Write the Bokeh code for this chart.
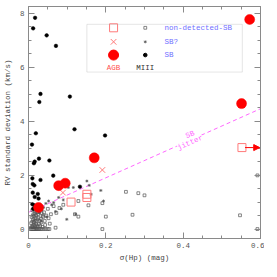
from bokeh.plotting import figure
from bokeh.models import Range1d, LinearAxis, SingleIntervalTicker, FixedTicker, Label, BoxAnnotation, Arrow, NormalHead
from bokeh.embed import file_html
from bokeh.resources import INLINE

# ---------------- data ----------------
# AGB stars
agb_sb_x = [0.026, 0.078, 0.095, 0.170, 0.551, 0.572]
agb_sb_y = [0.80, 1.61, 1.70, 2.64, 4.65, 7.77]
agb_sbq_x = [0.089, 0.191]
agb_sbq_y = [1.35, 2.19]
agb_nd_x = [0.110, 0.151, 0.151, 0.552]
agb_nd_y = [1.00, 1.29, 1.17, 3.02]
# lower limit arrow for the outlier non-detected AGB star
arrow_x = [0.560, 0.598]
arrow_y = [3.02, 3.02]

# MIII stars
m3_sb_x = [0.017, 0.012, 0.047, 0.071, 0.031, 0.028, 0.107, 0.119, 0.019, 0.198,
           0.009, 0.016, 0.027, 0.014, 0.054, 0.064, 0.010, 0.031, 0.011, 0.015,
           0.133, 0.011, 0.024, 0.016, 0.026, 0.010, 0.015, 0.012]
m3_sb_y = [7.83, 7.44, 7.18, 6.79, 5.01, 4.71, 4.91, 3.70, 3.55, 3.47,
           3.13, 2.50, 2.61, 2.44, 2.54, 1.98, 1.88, 1.82, 1.67, 1.62,
           1.57, 1.35, 1.30, 1.19, 1.13, 0.92, 0.88, 0.75]
m3_sbq_x = [0.151, 0.157, 0.187, 0.162, 0.194, 0.103, 0.116, 0.078, 0.090, 0.065,
            0.052, 0.039, 0.122, 0.099, 0.045, 0.060, 0.035, 0.070, 0.028, 0.020,
            0.085, 0.047, 0.033]
m3_sbq_y = [1.78, 1.62, 1.43, 1.29, 1.04, 1.54, 1.54, 1.17, 1.08, 0.98,
            1.04, 0.80, 0.55, 0.36, 0.95, 0.90, 0.70, 0.65, 0.60, 0.85,
            0.75, 0.45, 0.30]
m3_nd_x = [0.005, 0.008, 0.010, 0.012, 0.014, 0.016, 0.018, 0.020, 0.022, 0.025,
           0.028, 0.031, 0.035, 0.040, 0.045, 0.050, 0.054,
           0.006, 0.009, 0.011, 0.013, 0.015, 0.017, 0.019, 0.021, 0.024, 0.027,
           0.030, 0.033, 0.036,
           0.007, 0.010, 0.012, 0.014, 0.016, 0.018, 0.020, 0.023, 0.026, 0.029,
           0.032, 0.038, 0.042,
           0.008, 0.011, 0.013, 0.015, 0.017, 0.020, 0.022, 0.025, 0.028, 0.034,
           0.040, 0.046, 0.052, 0.058,
           0.010, 0.014, 0.018, 0.030, 0.050, 0.065, 0.072, 0.080, 0.090,
           0.070, 0.055, 0.120,
           0.129, 0.155, 0.191, 0.129, 0.200, 0.269, 0.547, 0.191, 0.592, 0.252,
           0.284, 0.300, 0.592, 0.043, 0.037]
m3_nd_y = [0.00, 0.00, 0.00, 0.00, 0.00, 0.00, 0.00, 0.00, 0.00, 0.00,
           0.00, 0.00, 0.00, 0.00, 0.00, 0.00, 0.00,
           0.05, 0.08, 0.12, 0.06, 0.15, 0.10, 0.20, 0.14, 0.09, 0.18,
           0.12, 0.25, 0.08,
           0.22, 0.28, 0.35, 0.26, 0.32, 0.40, 0.30, 0.36, 0.42, 0.30,
           0.38, 0.45, 0.30,
           0.45, 0.50, 0.55, 0.48, 0.58, 0.52, 0.62, 0.55, 0.65, 0.58,
           0.62, 0.50, 0.40, 0.55,
           0.70, 0.75, 0.68, 0.78, 0.75, 0.85, 0.60, 0.78, 0.90,
           0.05, 0.20, 0.55,
           1.04, 0.88, 0.96, 0.46, 0.46, 0.53, 0.51, 0.00, 0.00, 1.38,
           1.33, 1.25, 1.99, 0.15, 0.50]

# SB jitter line
jitter_x = [0.0, 0.6]
jitter_y = [0.62, 4.46]

x_major = [0.0, 0.2, 0.4, 0.6]
x_minor = [0.05, 0.1, 0.15, 0.25, 0.3, 0.35, 0.45, 0.5, 0.55]
y_major = [0, 2, 4, 6, 8]
y_minor = [-0.5, 0.5, 1, 1.5, 2.5, 3, 3.5, 4.5, 5, 5.5, 6.5, 7, 7.5]

# ---------------- styling ----------------
FONT = "Liberation Mono"
GRAY = "#8a8a8a"
RED = "#ff0000"
PINK = "#ff7a7a"
BLUE = "#6f6fff"
MAG = "#ff66ff"
DARK = "#555555"

p = figure(frame_width=232, frame_height=232, x_range=Range1d(0, 0.6), y_range=Range1d(-0.35, 8.25),
           output_backend="svg", toolbar_location=None,
           min_border_left=22, min_border_right=4, min_border_top=6, min_border_bottom=24,
           x_axis_label="σ(Hp) (mag)", y_axis_label="RV standard deviation (km/s)")
p.grid.visible = False
p.outline_line_color = GRAY
p.background_fill_color = "white"
p.border_fill_color = "white"

for ax in [p.xaxis[0], p.yaxis[0]]:
    ax.axis_line_color = GRAY
    ax.major_tick_line_color = GRAY
    ax.minor_tick_line_color = GRAY
    ax.major_tick_in = 6
    ax.major_tick_out = 0
    ax.minor_tick_in = 3
    ax.minor_tick_out = 0
    ax.major_label_text_font = FONT
    ax.major_label_text_font_size = "7.5px"
    ax.major_label_text_color = "#555555"
    ax.axis_label_text_font = FONT
    ax.axis_label_text_font_size = "7.5px"
    ax.axis_label_text_font_style = "normal"
    ax.axis_label_text_color = "#444444"

p.xaxis[0].ticker = FixedTicker(ticks=x_major, minor_ticks=x_minor)
p.yaxis[0].ticker = FixedTicker(ticks=y_major, minor_ticks=y_minor)
p.xaxis[0].major_label_standoff = 4
p.yaxis[0].major_label_standoff = 4
p.xaxis[0].axis_label_standoff = 3
p.yaxis[0].axis_label_standoff = 5

# mirrored ticks on right/top: label-free axes (ticks given as minor ticks only)
for loc, majors, minors in [("right", y_major, y_minor), ("above", x_major, x_minor)]:
    for pos, ln in [(majors, 6), (minors, 3)]:
        ax = LinearAxis(ticker=FixedTicker(ticks=[], minor_ticks=pos), axis_line_color=GRAY,
                        major_tick_line_color=None, minor_tick_line_color=GRAY,
                        major_tick_in=0, major_tick_out=0, minor_tick_in=ln, minor_tick_out=0,
                        major_label_standoff=0)
        p.add_layout(ax, loc)

# jitter line
p.line(jitter_x, jitter_y, line_color=MAG, line_dash="4 3", line_width=1)

# MIII points
p.scatter(m3_nd_x, m3_nd_y, marker="square", size=2.8, fill_color=None, line_color=DARK, line_width=0.7)
p.scatter(m3_sbq_x, m3_sbq_y, marker="asterisk", size=3, line_color=DARK, line_width=0.7)
p.scatter(m3_sb_x, m3_sb_y, marker="circle", size=3.6, fill_color="black", line_color="black", line_width=0.5)

# AGB points
p.scatter(agb_nd_x, agb_nd_y, marker="square", size=8, fill_color=None, line_color=PINK, line_width=1)
p.scatter(agb_sbq_x, agb_sbq_y, marker="x", size=8, line_color=PINK, line_width=1)
p.scatter(agb_sb_x, agb_sb_y, marker="circle", size=10, fill_color=RED, line_color=RED, line_width=0.5)

p.add_layout(Arrow(end=NormalHead(size=6, fill_color=RED, line_color=RED, line_width=1),
                   x_start=arrow_x[0], y_start=arrow_y[0], x_end=arrow_x[1], y_end=arrow_y[1],
                   line_color=RED, line_width=1))

# jitter label
for txt, yy in [("SB", 3.50), ("jitter", 3.20)]:
    p.add_layout(Label(x=0.418, y=yy, text=txt, angle=24, angle_units="deg",
                       text_font=FONT, text_font_size="7.5px", text_color=MAG,
                       text_align="center", text_baseline="middle",
                       background_fill_color="white", background_fill_alpha=1.0))

# legend (hand drawn)
p.add_layout(BoxAnnotation(left=0.151, right=0.553, bottom=5.82, top=7.59,
                           fill_color=None, line_color="#aaaaaa", line_width=1))
p.scatter([0.220], [7.46], marker="square", size=8, fill_color=None, line_color=PINK)
p.scatter([0.220], [6.94], marker="x", size=8, line_color=PINK)
p.scatter([0.220], [6.45], marker="circle", size=10, fill_color=RED, line_color=RED)
p.scatter([0.302], [7.46], marker="square", size=2.8, fill_color=None, line_color=DARK, line_width=0.7)
p.scatter([0.302], [6.94], marker="asterisk", size=3, line_color=DARK, line_width=0.7)
p.scatter([0.302], [6.45], marker="circle", size=3.6, fill_color="black", line_color="black")
for txt, yy in [("non-detected-SB", 7.46), ("SB?", 6.94), ("SB", 6.45)]:
    p.add_layout(Label(x=0.352, y=yy, text=txt, text_font=FONT, text_font_size="7.5px",
                       text_color=BLUE, text_baseline="middle"))
p.add_layout(Label(x=0.220, y=5.98, text="AGB", text_font=FONT, text_font_size="7.5px",
                   text_color="#ff5050", text_align="center", text_baseline="middle"))
p.add_layout(Label(x=0.302, y=5.98, text="MIII", text_font=FONT, text_font_size="7.5px",
                   text_color="#333333", text_align="center", text_baseline="middle"))

open("out.html", "w").write(file_html(p, INLINE))
